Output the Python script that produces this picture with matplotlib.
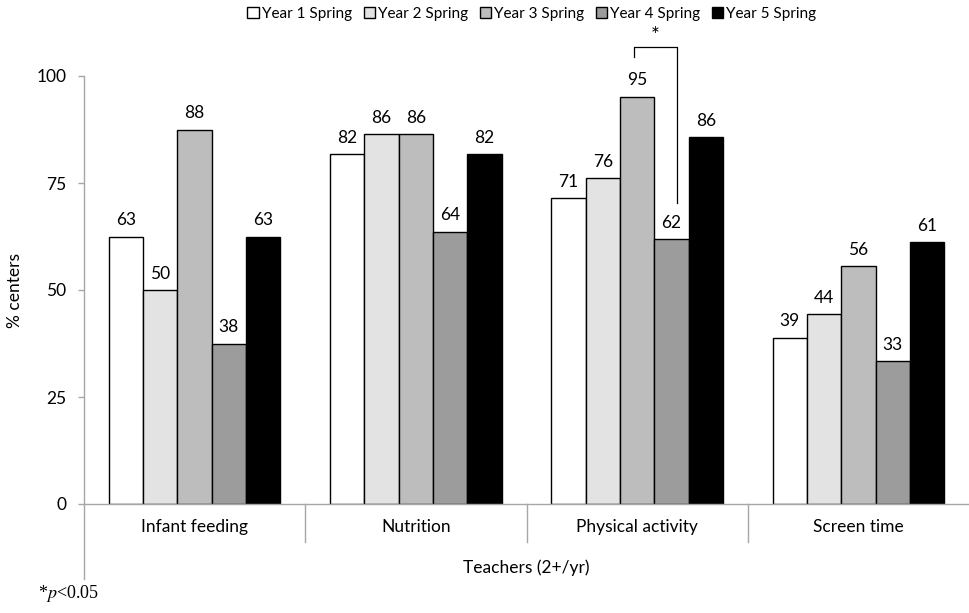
import math
import matplotlib.pyplot as plt
import numpy as np

plt.rcParams['font.family'] = ['Lato', 'DejaVu Sans']
plt.rcParams['mathtext.fontset'] = 'stix'

categories = ['Infant feeding', 'Nutrition', 'Physical activity', 'Screen time']
series = ['Year 1 Spring', 'Year 2 Spring', 'Year 3 Spring', 'Year 4 Spring', 'Year 5 Spring']
year1 = [62.5, 81.8, 71.4, 38.9]
year2 = [50.0, 86.4, 76.2, 44.4]
year3 = [87.5, 86.4, 95.2, 55.6]
year4 = [37.5, 63.6, 61.9, 33.3]
year5 = [62.5, 81.8, 85.7, 61.1]
yticks = [0, 25, 50, 75, 100]

values = [year1, year2, year3, year4, year5]
colors = ['white', '#e3e3e3', '#bdbdbd', '#9c9c9c', 'black']
axis_grey = '#a6a6a6'
fs = 12.5

fig = plt.figure(figsize=(9.69, 6.13), dpi=100)
ax = fig.add_axes([84 / 969, 1 - 504 / 613, (969 - 84) / 969, 428 / 613])

x = np.arange(len(categories))
w = 0.155
for i, (name, vals, c) in enumerate(zip(series, values, colors)):
    pos = x + (i - 2) * w
    ax.bar(pos, vals, w, color=c, edgecolor='black', linewidth=1.0, label=name, zorder=2)
    for px, v in zip(pos, vals):
        ax.annotate(str(math.floor(v + 0.5)), (px, v), xytext=(0, 6),
                    textcoords='offset points', ha='center', va='bottom', fontsize=fs)

ax.set_xlim(-0.5, len(categories) - 0.5)
ax.set_ylim(0, 100)
ax.set_yticks(yticks)
ax.set_xticks(x)
ax.set_xticklabels(categories)
ax.tick_params(axis='x', length=0, pad=11, labelsize=fs)
ax.tick_params(axis='y', length=4.5, width=1, color=axis_grey, pad=8, labelsize=fs)
for s in ['top', 'right']:
    ax.spines[s].set_visible(False)
for s in ['left', 'bottom']:
    ax.spines[s].set_color(axis_grey)
    ax.spines[s].set_linewidth(1)
ax.spines['left'].set_bounds(0, 100)

trans = ax.get_xaxis_transform()
# category separators and extended left axis
for b in x[1:] - 0.5:
    ax.plot([b, b], [0, -0.088], color=axis_grey, lw=1, transform=trans, clip_on=False)
ax.plot([-0.5, -0.5], [0, -0.175], color=axis_grey, lw=1, transform=trans, clip_on=False)

ax.set_ylabel('% centers', fontsize=fs, labelpad=10)
ax.text(0.5, -0.15, 'Teachers (2+/yr)', transform=ax.transAxes, ha='center', va='center',
        fontsize=fs)

# significance bracket: Year 3 vs Year 4, Physical activity
x3 = x[2] + 0 * w
x4 = x[2] + 1 * w
xl, xr = x3 - 0.014, x4 + 0.023
ytop = 106.8
ax.plot([xl, xl, xr, xr], [year3[2] + 9.2, ytop, ytop, year4[2] + 8.5], color='black',
        lw=0.9, clip_on=False)
ax.text((xl + xr) / 2, ytop + 0.3, '*', ha='center', va='bottom', fontsize=15)

fig.legend(loc='center', bbox_to_anchor=(532 / 969, 1 - 14 / 613), ncol=5, frameon=False,
           fontsize=11, handlelength=0.75, handleheight=0.75, handletextpad=0.2,
           columnspacing=0.75, borderaxespad=0)

fig.text(38 / 969, 1 - 594 / 613, '*$p$<0.05', family='Liberation Serif', fontsize=13,
         ha='left', va='center')

fig.savefig('out.png', dpi=100)
